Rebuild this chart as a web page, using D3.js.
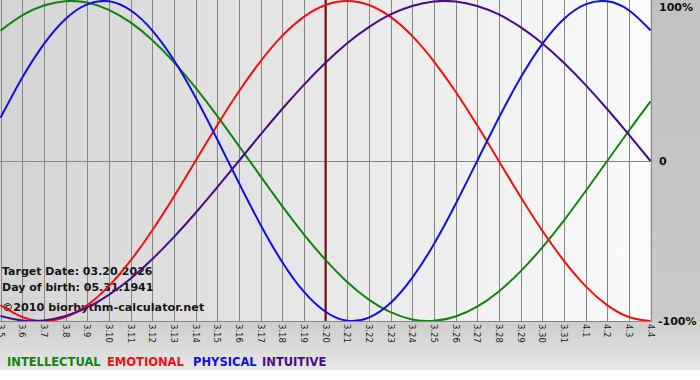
<!DOCTYPE html>
<html>
<head>
<meta charset="utf-8">
<script src="https://cdn.jsdelivr.net/npm/d3@7"></script>
<style>
    body { margin: 0; background: #fff; }
    svg { display: block; font-family: "DejaVu Sans", Verdana, sans-serif; }
    .grid-lines line { stroke: #858585; stroke-width: 1; shape-rendering: crispEdges; }
    .tick-label { font-size: 8.5px; fill: #1a1a1a; }
    .y-label { font-size: 11px; font-weight: bold; fill: #111; }
    .info { font-size: 11px; font-weight: bold; fill: #151515; }
    .chart-line { fill: none; stroke-width: 2; }
</style>
</head>
<body>
<div class="mainview"></div>
<script>

// days shown on the x axis (month.day)
const days = ["3.5", "3.6", "3.7", "3.8", "3.9", "3.10", "3.11", "3.12", "3.13", "3.14",
    "3.15", "3.16", "3.17", "3.18", "3.19", "3.20", "3.21", "3.22", "3.23", "3.24",
    "3.25", "3.26", "3.27", "3.28", "3.29", "3.30", "3.31", "4.1", "4.2", "4.3", "4.4"];

const targetDay = "3.20";

// values in percent, one per day
const intellectual = [81.5, 91.0, 97.2, 99.9, 99.0, 94.5, 86.6, 75.6, 61.8, 45.8, 28.2, 9.5,
    -9.5, -28.2, -45.8, -61.8, -75.6, -86.6, -94.5, -99.0, -99.9, -97.2, -91.0, -81.5,
    -69.0, -54.1, -37.2, -18.9, 0, 18.9, 37.2];
const emotional = [-90.1, -97.5, -100, -97.5, -90.1, -78.2, -62.3, -43.4, -22.3, 0, 22.3,
    43.4, 62.3, 78.2, 90.1, 97.5, 100, 97.5, 90.1, 78.2, 62.3, 43.4, 22.3, 0, -22.3, -43.4,
    -62.3, -78.2, -90.1, -97.5, -100];
const physical = [27.0, 52.0, 73.1, 88.8, 97.9, 99.8, 94.2, 81.7, 63.1, 39.8, 13.6, -13.6,
    -39.8, -63.1, -81.7, -94.2, -99.8, -97.9, -88.8, -73.1, -52.0, -27.0, 0, 27.0, 52.0,
    73.1, 88.8, 97.9, 99.8, 94.2, 81.7];
const intuitive = [-96.9, -99.7, -99.7, -96.9, -91.6, -83.7, -73.6, -61.4, -47.6, -32.5,
    -16.5, 0, 16.5, 32.5, 47.6, 61.4, 73.6, 83.7, 91.6, 96.9, 99.7, 99.7, 96.9, 91.6, 83.7,
    73.6, 61.4, 47.6, 32.5, 16.5, 0];

const seriesNames = ["INTELLECTUAL", "EMOTIONAL", "PHYSICAL", "INTUITIVE"];
const yTicks = [100, 0, -100];
const yTickLabels = ["100%", "0", "-100%"];
const infoLines = ["Target Date: 03.20.2026", "Day of birth: 05.31.1941"];
const copyright = "\u00a92010 biorhythm-calculator.net";

const colors = {
    INTELLECTUAL: "#0f850f",
    EMOTIONAL: "#f01010",
    PHYSICAL: "#1010e6",
    INTUITIVE: "#4a0a8c"
};

const dim = { width: 700, height: 380 };
const plot = { left: 0.5, right: 650.5, top: 1, bottom: 321 };
const legendX = [7, 107, 193, 262];

const x = d3.scalePoint()
    .domain(days)
    .range([plot.left, plot.right]);

const y = d3.scaleLinear()
    .domain([-100, 100])
    .range([plot.bottom, plot.top]);

const svg = d3.select(".mainview").append("svg")
    .attr("width", dim.width)
    .attr("height", dim.height);

// backgrounds ////////////////////////////////////

const defs = svg.append("defs");

const outerGrad = defs.append("linearGradient")
    .attr("id", "outer-bg")
    .attr("x1", 0).attr("y1", 0).attr("x2", 0).attr("y2", 1);
outerGrad.append("stop").attr("offset", 0).attr("stop-color", "#c2c2c2");
outerGrad.append("stop").attr("offset", 0.84).attr("stop-color", "#c8c8c8");
outerGrad.append("stop").attr("offset", 1).attr("stop-color", "#e6e6e6");

const plotGrad = defs.append("linearGradient")
    .attr("id", "plot-bg")
    .attr("x1", 0).attr("y1", 0).attr("x2", 1).attr("y2", 0);
plotGrad.append("stop").attr("offset", 0).attr("stop-color", "#d4d4d4");
plotGrad.append("stop").attr("offset", 1).attr("stop-color", "#fbfbfb");

defs.append("clipPath")
    .attr("id", "plot-clip")
    .append("rect")
    .attr("x", 0).attr("y", 0)
    .attr("width", plot.right + 1)
    .attr("height", plot.bottom);

svg.append("rect")
    .attr("width", dim.width)
    .attr("height", 370)
    .attr("fill", "url(#outer-bg)");

svg.append("rect")
    .attr("x", 0).attr("y", 0)
    .attr("width", plot.right)
    .attr("height", plot.bottom)
    .attr("fill", "url(#plot-bg)");

// grid and axes ////////////////////////////////////

const grid = svg.append("g").attr("class", "grid-lines");

grid.selectAll("line.v")
    .data(days)
    .join("line")
    .attr("class", "v")
    .attr("x1", d => Math.round(x(d)) + 0.5)
    .attr("x2", d => Math.round(x(d)) + 0.5)
    .attr("y1", 0)
    .attr("y2", plot.bottom + 1);

grid.selectAll("line.h")
    .data([0, -100])
    .join("line")
    .attr("class", "h")
    .attr("x1", 0)
    .attr("x2", plot.right)
    .attr("y1", d => Math.round(y(d)) + 0.5)
    .attr("y2", d => Math.round(y(d)) + 0.5);

// first label is cut by the left edge, as in the original
svg.append("g")
    .selectAll("text")
    .data(days)
    .join("text")
    .attr("class", "tick-label")
    .attr("transform", d => `translate(${ x(d) }, ${ plot.bottom + 3 }) rotate(90)`)
    .attr("dy", "0.35em")
    .text(d => d);

svg.append("g")
    .selectAll("text")
    .data(yTicks)
    .join("text")
    .attr("class", "y-label")
    .attr("x", (d, i) => i === 2 ? 658 : 659)
    .attr("y", d => Math.max(y(d), 7.5))
    .attr("dy", "0.36em")
    .text((d, i) => yTickLabels[i]);

// target day marker
svg.append("line")
    .attr("x1", x(targetDay)).attr("x2", x(targetDay))
    .attr("y1", 0).attr("y2", plot.bottom)
    .attr("stroke", "#7a1010")
    .attr("stroke-width", 2);

// info texts ////////////////////////////////////

svg.append("g")
    .selectAll("text")
    .data(infoLines)
    .join("text")
    .attr("class", "info")
    .attr("x", 2)
    .attr("y", (d, i) => 275 + i * 16)
    .text(d => d);

svg.append("text")
    .attr("class", "info")
    .attr("x", 2)
    .attr("y", 311)
    .style("font-size", "11.2px")
    .text(copyright);

// curves ////////////////////////////////////

const series = [
    { name: "INTELLECTUAL", values: intellectual },
    { name: "EMOTIONAL", values: emotional },
    { name: "PHYSICAL", values: physical },
    { name: "INTUITIVE", values: intuitive }
];

const line = d3.line()
    .curve(d3.curveNatural)
    .x((d, i) => x(days[i]))
    .y(d => y(d));

svg.append("g")
    .attr("clip-path", "url(#plot-clip)")
    .selectAll("path")
    .data(series)
    .join("path")
    .attr("class", "chart-line")
    .attr("stroke", d => colors[d.name])
    .attr("d", d => line(d.values));

// legend ////////////////////////////////////

svg.append("g")
    .selectAll("text")
    .data(seriesNames)
    .join("text")
    .attr("x", (d, i) => legendX[i])
    .attr("y", 366)
    .attr("fill", d => colors[d])
    .style("font-size", "11.5px")
    .style("font-weight", "bold")
    .text(d => d);

</script>
</body>
</html>
